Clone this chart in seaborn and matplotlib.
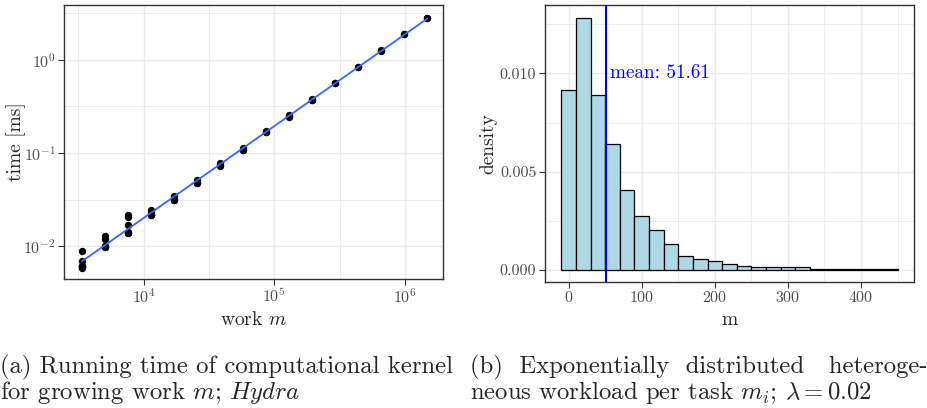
import numpy as np
import pandas as pd
import matplotlib
matplotlib.use("Agg")
import matplotlib.pyplot as plt
import matplotlib.ticker as mticker
import seaborn as sns

# left panel: kernel running time vs work (repeated measurements)
work = [3375, 5063, 7594, 11391, 17086, 25629, 38443, 57665,
        86498, 129746, 194620, 291929, 437894, 656841, 985261, 1477892]
times = [
    [0.0059, 0.0060, 0.0061, 0.0061, 0.0070, 0.0089],
    [0.0099, 0.0099, 0.0100, 0.0100, 0.0120, 0.0130],
    [0.0138, 0.0140, 0.0141, 0.0169, 0.0208, 0.0217],
    [0.0217, 0.0218, 0.0220, 0.0231, 0.0247],
    [0.0314, 0.0316, 0.0321, 0.0349],
    [0.0477, 0.0480, 0.0514],
    [0.0732, 0.0740, 0.0782],
    [0.1076, 0.1080, 0.1140],
    [0.166, 0.168, 0.173],
    [0.245, 0.248, 0.253],
    [0.367, 0.370, 0.379],
    [0.556, 0.562],
    [0.826, 0.834],
    [1.25, 1.26],
    [1.87, 1.88],
    [2.80, 2.82],
]

# right panel: histogram of task workloads (density per bin)
bin_edges = list(range(-10, 451, 20))
bin_density = [0.00914, 0.01283, 0.00892, 0.00642, 0.00405, 0.00276, 0.00203,
               0.00131, 0.00073, 0.00058, 0.00044, 0.00032, 0.00020, 0.00014,
               0.00014, 0.00014, 0.00014, 0.00003, 0.00007, 0.00003, 0.00003,
               0.00003, 0.00003]
mean_m = 51.61

rows = [(w, t) for w, ts in zip(work, times) for t in ts]
df = pd.DataFrame(rows, columns=["work", "time"])
centers = [(a + b) / 2 for a, b in zip(bin_edges[:-1], bin_edges[1:])]
hist_df = pd.DataFrame({"m": centers, "density": bin_density})

sns.set_theme(style="whitegrid")
plt.rcParams["font.family"] = ["cmr10", "DejaVu Serif"]
plt.rcParams["mathtext.fontset"] = "cm"
plt.rcParams["axes.formatter.use_mathtext"] = True
plt.rcParams["axes.unicode_minus"] = False

grid_col = "#EBEBEB"
tick_col = "#4D4D4D"
border_col = "#333333"

fig = plt.figure(figsize=(9.27, 4.08), dpi=100)
ax1 = fig.add_axes([0.0690, 0.3162, 0.4088, 0.6716])
ax2 = fig.add_axes([0.5876, 0.3088, 0.3984, 0.6782])


def style_axes(ax):
    ax.set_facecolor("white")
    for s in ax.spines.values():
        s.set_visible(True)
        s.set_color(border_col)
        s.set_linewidth(1.0)
    ax.grid(True, which="major", color=grid_col, linewidth=1.0)
    ax.grid(True, which="minor", color=grid_col, linewidth=0.6)
    ax.tick_params(which="major", direction="out", length=4, width=0.8,
                   color=border_col, labelcolor=tick_col, labelsize=11.5,
                   bottom=True, left=True, pad=2)
    ax.tick_params(which="minor", length=0)
    ax.set_axisbelow(True)


# --- (a) log-log scatter with linear fit
sns.scatterplot(data=df, x="work", y="time", ax=ax1, color="black", s=28,
                edgecolor="black", linewidth=0, zorder=3)
ax1.set_xscale("log")
ax1.set_yscale("log")
coef = np.polyfit(np.log10(df["work"]), np.log10(df["time"]), 1)
xs = np.array([min(work), max(work)])
ax1.plot(xs, 10 ** np.polyval(coef, np.log10(xs)), color="#3366FF", lw=1.3, zorder=4)
ax1.set_xlim(10 ** 3.39, 10 ** 6.29)
ax1.set_ylim(10 ** -2.35, 10 ** 0.586)
ax1.xaxis.set_major_locator(mticker.FixedLocator([1e4, 1e5, 1e6]))
ax1.yaxis.set_major_locator(mticker.FixedLocator([1e-2, 1e-1, 1e0]))
ax1.xaxis.set_minor_locator(mticker.FixedLocator([10 ** 3.5, 10 ** 4.5, 10 ** 5.5]))
ax1.yaxis.set_minor_locator(mticker.FixedLocator([10 ** -1.5, 10 ** -0.5, 10 ** 0.5]))
ax1.xaxis.set_minor_formatter(mticker.NullFormatter())
ax1.yaxis.set_minor_formatter(mticker.NullFormatter())
style_axes(ax1)
ax1.set_xlabel("work $m$", fontsize=14)
ax1.set_ylabel("time [ms]", fontsize=14)
ax1.xaxis.set_label_coords(0.5, -0.115)
ax1.yaxis.set_label_coords(-0.10, 0.5)

# --- (b) histogram with mean line
sns.histplot(data=hist_df, x="m", weights="density", bins=bin_edges, ax=ax2,
             color="#ADD8E6", edgecolor="black", linewidth=0.9, alpha=1.0)
ax2.axvline(mean_m, color="blue", lw=1.5, zorder=5)
ax2.text(mean_m + 5.5, 0.0100, f"mean: {mean_m}", color="blue", fontsize=13.8,
         va="center", ha="left")
ax2.set_xlim(-32.9, 472.6)
ax2.set_ylim(-0.00061, 0.01346)
ax2.xaxis.set_major_locator(mticker.FixedLocator([0, 100, 200, 300, 400]))
ax2.yaxis.set_major_locator(mticker.FixedLocator([0.0, 0.005, 0.010]))
ax2.xaxis.set_minor_locator(mticker.FixedLocator([50, 150, 250, 350, 450]))
ax2.yaxis.set_minor_locator(mticker.FixedLocator([0.0025, 0.0075, 0.0125]))
ax2.yaxis.set_major_formatter(mticker.FormatStrFormatter("%.3f"))
style_axes(ax2)
ax2.set_xlabel("m", fontsize=14)
ax2.set_ylabel("density", fontsize=14)
ax2.xaxis.set_label_coords(0.5, -0.105)
ax2.yaxis.set_label_coords(-0.129, 0.5)

# captions (LaTeX subfigure style); baseline of the last line
cap_size = 17.8
cap_y = 1 - 399 / 408
fig.text(0.0, cap_y,
         "(a) Running time of computational kernel\nfor growing work $m$; $Hydra$",
         fontsize=cap_size, ha="left", va="baseline", linespacing=0.93)
fig.text(470 / 927, cap_y,
         "(b)  Exponentially  distributed   heteroge-\n"
         "neous workload per task $m_i$; $\\lambda = 0.02$",
         fontsize=cap_size, ha="left", va="baseline", linespacing=0.93)

fig.savefig("out.png", dpi=100)
